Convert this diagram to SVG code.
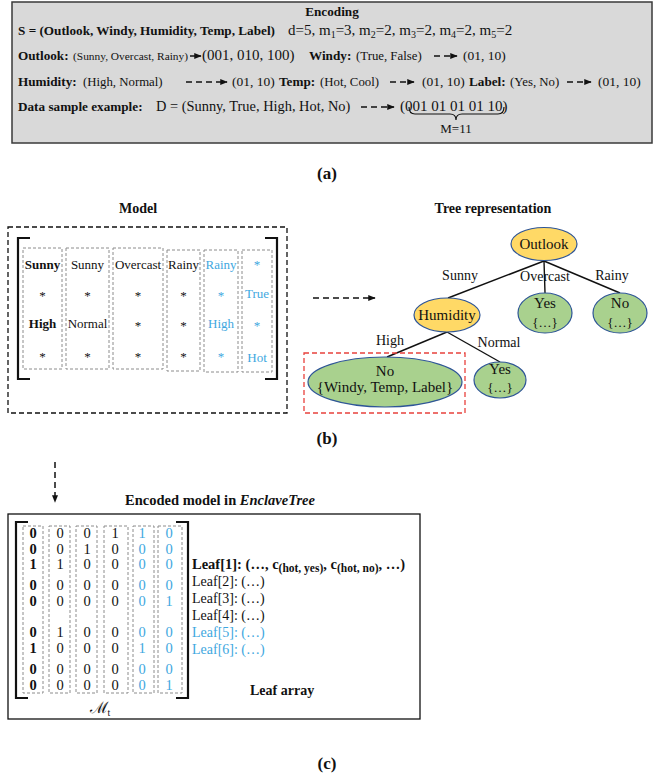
<svg xmlns="http://www.w3.org/2000/svg" width="664" height="776" viewBox="0 0 664 776">
<style>
  text { font-family: "Liberation Serif", "Times New Roman", serif; fill: #111; }
  .b { font-weight: bold; }
  .blue { fill: #3ea7e0; }
  .lb { font-size: 13.2px; font-weight: bold; }
  .r12 { font-size: 12.8px; }
  .code { font-size: 13.5px; }
  .big { font-size: 15px; }
  .m { font-size: 13px; text-anchor: middle; }
  .mat { font-size: 14.5px; text-anchor: middle; }
  .lbl { font-size: 14px; text-anchor: middle; }
  .node { font-size: 15px; text-anchor: middle; }
  .sm { font-size: 13px; text-anchor: middle; }
  .leaftxt { font-size: 14px; }
  .col { fill: none; stroke: #8c8c8c; stroke-width: 1; stroke-dasharray: 3 2; }
  .brk { fill: none; stroke: #111; stroke-width: 2.2; }
  .edge { stroke: #111; stroke-width: 1.4; fill: none; }
  .arr { stroke: #111; stroke-width: 1.5; fill: none; marker-end: url(#ah); }
  .darr { stroke: #111; stroke-width: 1.5; fill: none; stroke-dasharray: 6 4; marker-end: url(#ah); }
  .inner { fill: #ffd966; stroke: #2e5597; stroke-width: 1.2; }
  .leaf { fill: #a9d18e; stroke: #2e5597; stroke-width: 1.2; }
</style>
<defs>
  <marker id="ah" viewBox="0 0 10 10" refX="9" refY="5" markerWidth="5" markerHeight="5" orient="auto">
    <path d="M0,1 L10,5 L0,9 z" fill="#111"/>
  </marker>
</defs>

<!-- (a) Encoding panel -->
<g id="encoding">
  <rect x="12" y="2" width="640" height="141" fill="#d9d9d9" stroke="#3a3a3a" stroke-width="1.5"/>
  <text x="332" y="16" class="lb" text-anchor="middle">Encoding</text>
  <text x="18" y="35" class="lb">S = (Outlook, Windy, Humidity, Temp, Label)</text>
  <text x="288" y="35" class="big">d=5, m<tspan font-size="10" dy="3">1</tspan><tspan dy="-3">=3, m</tspan><tspan font-size="10" dy="3">2</tspan><tspan dy="-3">=2, m</tspan><tspan font-size="10" dy="3">3</tspan><tspan dy="-3">=2, m</tspan><tspan font-size="10" dy="3">4</tspan><tspan dy="-3">=2, m</tspan><tspan font-size="10" dy="3">5</tspan><tspan dy="-3">=2</tspan></text>

  <text x="18" y="60" class="lb">Outlook:</text>
  <text x="73" y="60" font-size="11.4">(Sunny, Overcast, Rainy)</text>
  <text x="202" y="60" class="big">(001, 010, 100)</text>
  <text x="309" y="60" class="lb">Windy:</text>
  <text x="356" y="60" class="r12">(True, False)</text>
  <text x="463" y="60" class="code">(01, 10)</text>

  <text x="18" y="86" class="lb">Humidity:</text>
  <text x="83" y="86" class="r12">(High, Normal)</text>
  <text x="232" y="86" class="code">(01, 10)</text>
  <text x="279" y="86" class="lb">Temp:</text>
  <text x="320" y="86" class="r12">(Hot, Cool)</text>
  <text x="422" y="86" class="code">(01, 10)</text>
  <text x="469" y="86" class="lb">Label:</text>
  <text x="510" y="86" class="r12">(Yes, No)</text>
  <text x="598" y="86" class="code">(01, 10)</text>

  <text x="18" y="111" class="lb" font-size="13.5">Data sample example:</text>
  <text x="156" y="111" font-size="14.4">D = (Sunny, True, High, Hot, No)</text>
  <text x="400" y="111" class="big">(001 01 01 01 10)</text>
  <path d="M409,107 Q409,114 415,114 L450,114 Q456,114 456,120 Q456,114 462,114 L498,114 Q504,114 504,107" fill="none" stroke="#111" stroke-width="1.2"/>
  <text x="456" y="133" text-anchor="middle" font-size="13">M=11</text>
</g>
<g id="encoding-arrows">
  <line x1="190" y1="56" x2="201" y2="56" class="arr"/>
  <line x1="434" y1="56" x2="457" y2="56" class="darr"/>
  <line x1="186" y1="82" x2="227" y2="82" class="darr"/>
  <line x1="390" y1="82" x2="414" y2="82" class="darr"/>
  <line x1="567" y1="82" x2="591" y2="82" class="darr"/>
  <line x1="361" y1="107" x2="394" y2="107" class="darr"/>
</g>
<text x="327" y="179" class="b" font-size="17" text-anchor="middle">(a)</text>

<!-- (b) Model matrix -->
<g id="model">
  <text x="138" y="213" class="b" font-size="14" text-anchor="middle">Model</text>
  <rect x="8" y="227" width="279" height="186" fill="none" stroke="#111" stroke-width="1.3" stroke-dasharray="5 3"/>
  <path d="M30,238 H18 V379 H30" class="brk"/>
  <path d="M265,238 H277 V379 H265" class="brk"/>
  <rect x="23" y="248" width="39" height="121" class="col"/>
  <rect x="66" y="248" width="43" height="121" class="col"/>
  <rect x="113" y="248" width="50" height="121" class="col"/>
  <rect x="167" y="250" width="33" height="121" class="col"/>
  <rect x="204" y="250" width="34" height="122" class="col"/>
  <rect x="242" y="250" width="30" height="122" class="col"/>

  <text x="42.5" y="269" class="m b">Sunny</text>
  <text x="42.5" y="300" class="m">*</text>
  <text x="42.5" y="328" class="m b">High</text>
  <text x="42.5" y="361" class="m">*</text>

  <text x="87.5" y="269" class="m">Sunny</text>
  <text x="87.5" y="300" class="m">*</text>
  <text x="87.5" y="328" class="m">Normal</text>
  <text x="87.5" y="361" class="m">*</text>

  <text x="138" y="269" class="m">Overcast</text>
  <text x="138" y="300" class="m">*</text>
  <text x="138" y="330" class="m">*</text>
  <text x="138" y="361" class="m">*</text>

  <text x="183.5" y="269" class="m">Rainy</text>
  <text x="183.5" y="300" class="m">*</text>
  <text x="183.5" y="330" class="m">*</text>
  <text x="183.5" y="361" class="m">*</text>

  <text x="221" y="269" class="m blue">Rainy</text>
  <text x="221" y="300" class="m blue">*</text>
  <text x="221" y="328" class="m blue">High</text>
  <text x="221" y="361" class="m blue">*</text>

  <text x="257" y="269" class="m blue">*</text>
  <text x="257" y="298" class="m blue">True</text>
  <text x="257" y="330" class="m blue">*</text>
  <text x="257" y="362" class="m blue">Hot</text>
</g>

<!-- (b) Tree -->
<text x="493" y="213" class="b" font-size="14" text-anchor="middle">Tree representation</text>
<g id="tree-edges">
  <line x1="313" y1="298" x2="375" y2="298" class="darr" stroke-dasharray="5 3"/>
  <line x1="544" y1="261" x2="448" y2="298" class="edge"/>
  <line x1="544" y1="261" x2="545" y2="293" class="edge"/>
  <line x1="544" y1="261" x2="620" y2="293" class="edge"/>
  <line x1="447" y1="332" x2="387" y2="357" class="edge"/>
  <line x1="447" y1="332" x2="500" y2="362" class="edge"/>
  <text x="460" y="280" class="lbl">Sunny</text>
  <text x="545" y="281" class="lbl">Overcast</text>
  <text x="612" y="280" class="lbl">Rainy</text>
  <text x="390" y="345" class="lbl">High</text>
  <text x="499" y="347" class="lbl">Normal</text>
</g>
<g id="node-outlook">
  <ellipse cx="544" cy="244" rx="33" ry="16.5" class="inner"/>
  <text x="544" y="249" class="node">Outlook</text>
</g>
<g id="node-humidity">
  <ellipse cx="447" cy="315" rx="33" ry="17" class="inner"/>
  <text x="447" y="320" class="node">Humidity</text>
</g>
<g id="node-overcast-yes">
  <ellipse cx="545" cy="313" rx="27" ry="20" class="leaf"/>
  <text x="545" y="308" class="node">Yes</text>
  <text x="545" y="327" class="sm">{…}</text>
</g>
<g id="node-rainy-no">
  <ellipse cx="620" cy="313" rx="27" ry="20" class="leaf"/>
  <text x="620" y="308" class="node">No</text>
  <text x="620" y="327" class="sm">{…}</text>
</g>
<g id="node-high-no">
  <rect x="304" y="353" width="161" height="60" fill="none" stroke="#e8413c" stroke-width="1.3" stroke-dasharray="5 3"/>
  <ellipse cx="385" cy="382" rx="77" ry="25" class="leaf"/>
  <text x="385" y="376" class="node">No</text>
  <text x="385" y="392" class="node">{Windy, Temp, Label}</text>
</g>
<g id="node-normal-yes">
  <ellipse cx="500" cy="380" rx="26" ry="18" class="leaf"/>
  <text x="500" y="374" class="node">Yes</text>
  <text x="500" y="392" class="sm">{…}</text>
</g>
<text x="327" y="444" class="b" font-size="17" text-anchor="middle">(b)</text>

<!-- (c) Encoded model -->
<g id="encoded-arrow">
  <line x1="55" y1="462" x2="55" y2="502" class="darr" stroke-width="1.2" stroke-dasharray="4 3"/>
</g>
<text x="220" y="505" class="b" font-size="14.5" text-anchor="middle">Encoded model in <tspan font-style="italic">EnclaveTree</tspan></text>
<g id="encoded-model">
  <rect x="8" y="514" width="412" height="205" fill="none" stroke="#111" stroke-width="1.3"/>
  <path d="M28,522 H16 V698 H28" class="brk"/>
  <path d="M176,522 H188 V698 H176" class="brk"/>
  <rect x="23" y="526" width="20" height="167" class="col"/>
  <rect x="49" y="526" width="21" height="167" class="col"/>
  <rect x="76" y="526" width="21" height="167" class="col"/>
  <rect x="104" y="526" width="24" height="167" class="col"/>
  <rect x="133" y="526" width="21" height="167" class="col"/>
  <rect x="158" y="526" width="24" height="167" class="col"/>

  <g class="mat">
    <text x="33" y="538" class="b">0</text><text x="60" y="538">0</text><text x="87" y="538">0</text><text x="115" y="538">1</text><text x="142" y="538" class="blue">1</text><text x="169" y="538" class="blue">0</text>
    <text x="33" y="554" class="b">0</text><text x="60" y="554">0</text><text x="87" y="554">1</text><text x="115" y="554">0</text><text x="142" y="554" class="blue">0</text><text x="169" y="554" class="blue">0</text>
    <text x="33" y="569" class="b">1</text><text x="60" y="569">1</text><text x="87" y="569">0</text><text x="115" y="569">0</text><text x="142" y="569" class="blue">0</text><text x="169" y="569" class="blue">0</text>
    <text x="33" y="590" class="b">0</text><text x="60" y="590">0</text><text x="87" y="590">0</text><text x="115" y="590">0</text><text x="142" y="590" class="blue">0</text><text x="169" y="590" class="blue">0</text>
    <text x="33" y="606" class="b">0</text><text x="60" y="606">0</text><text x="87" y="606">0</text><text x="115" y="606">0</text><text x="142" y="606" class="blue">0</text><text x="169" y="606" class="blue">1</text>
    <text x="33" y="637" class="b">0</text><text x="60" y="637">1</text><text x="87" y="637">0</text><text x="115" y="637">0</text><text x="142" y="637" class="blue">0</text><text x="169" y="637" class="blue">0</text>
    <text x="33" y="653" class="b">1</text><text x="60" y="653">0</text><text x="87" y="653">0</text><text x="115" y="653">0</text><text x="142" y="653" class="blue">1</text><text x="169" y="653" class="blue">0</text>
    <text x="33" y="674" class="b">0</text><text x="60" y="674">0</text><text x="87" y="674">0</text><text x="115" y="674">0</text><text x="142" y="674" class="blue">0</text><text x="169" y="674" class="blue">0</text>
    <text x="33" y="690" class="b">0</text><text x="60" y="690">0</text><text x="87" y="690">0</text><text x="115" y="690">0</text><text x="142" y="690" class="blue">0</text><text x="169" y="690" class="blue">1</text>
  </g>
  <text x="100" y="713" font-family="DejaVu Serif, serif" font-size="16" text-anchor="middle">ℳ<tspan font-family="Liberation Serif, serif" font-size="10" dy="3">t</tspan></text>
</g>
<g id="leaf-array">
  <text x="192" y="569" class="b" font-size="14.5">Leaf[1]: (…, c<tspan font-size="11.5" dy="3">(hot, yes)</tspan><tspan dy="-3">, c</tspan><tspan font-size="11.5" dy="3">(hot, no)</tspan><tspan dy="-3">, …)</tspan></text>
  <text x="192" y="586" class="leaftxt">Leaf[2]: (…)</text>
  <text x="192" y="603" class="leaftxt">Leaf[3]: (…)</text>
  <text x="192" y="620" class="leaftxt">Leaf[4]: (…)</text>
  <text x="192" y="637" class="leaftxt blue">Leaf[5]: (…)</text>
  <text x="192" y="654" class="leaftxt blue">Leaf[6]: (…)</text>
  <text x="250" y="695" class="b" font-size="14">Leaf array</text>
</g>
<text x="327" y="769" class="b" font-size="17" text-anchor="middle">(c)</text>
</svg>
